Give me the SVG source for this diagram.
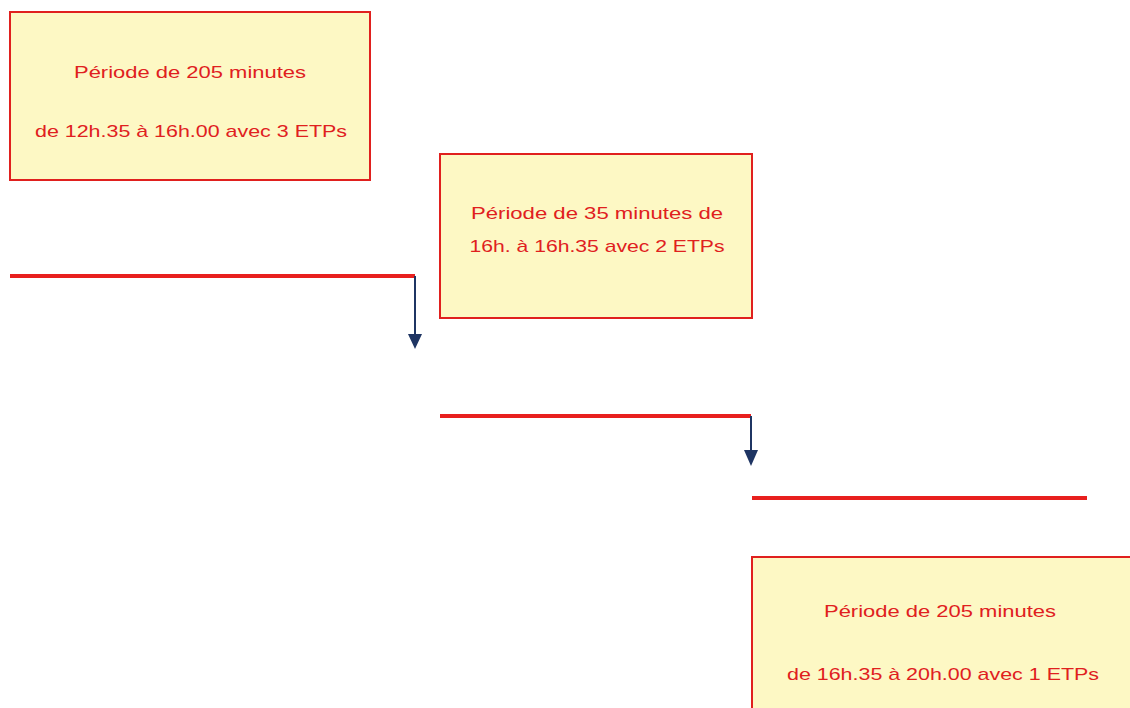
<svg xmlns="http://www.w3.org/2000/svg" width="1130" height="708" viewBox="0 0 1130 708">
<style>
.box{fill:#fdf8c4;stroke:#e0201e;stroke-width:2}
.t{font-family:"Liberation Sans",Arial,sans-serif;font-size:17px;fill:#e0201e;text-anchor:middle}
.bar{stroke:#e8201e;stroke-width:4;fill:none}
.arr{stroke:#1f3563;stroke-width:2;fill:none}
.head{fill:#1f3563}
</style>
<rect width="1130" height="708" fill="#ffffff"/>
<g id="node1">
<rect class="box" x="10" y="12" width="360" height="168"/>
<text class="t" x="190" y="78" textLength="232" lengthAdjust="spacingAndGlyphs">Période de 205 minutes</text>
<text class="t" x="191" y="137" textLength="312" lengthAdjust="spacingAndGlyphs">de 12h.35 à 16h.00 avec 3 ETPs</text>
</g>
<g id="node2">
<rect class="box" x="440" y="154" width="312" height="164"/>
<text class="t" x="597" y="219" textLength="252" lengthAdjust="spacingAndGlyphs">Période de 35 minutes de</text>
<text class="t" x="597" y="252" textLength="255" lengthAdjust="spacingAndGlyphs">16h. à 16h.35 avec 2 ETPs</text>
</g>
<g id="node3">
<rect class="box" x="752" y="557" width="390" height="160"/>
<text class="t" x="940" y="617" textLength="232" lengthAdjust="spacingAndGlyphs">Période de 205 minutes</text>
<text class="t" x="943" y="680" textLength="312" lengthAdjust="spacingAndGlyphs">de 16h.35 à 20h.00 avec 1 ETPs</text>
</g>
<g id="connectors">
<line class="bar" x1="10" y1="276" x2="415" y2="276"/>
<line class="arr" x1="415" y1="276" x2="415" y2="338"/>
<polygon class="head" points="408,334 422,334 415,349"/>
<line class="bar" x1="440" y1="416" x2="751" y2="416"/>
<line class="arr" x1="751" y1="416" x2="751" y2="454"/>
<polygon class="head" points="744,450 758,450 751,466"/>
<line class="bar" x1="752" y1="498" x2="1087" y2="498"/>
</g>
</svg>
